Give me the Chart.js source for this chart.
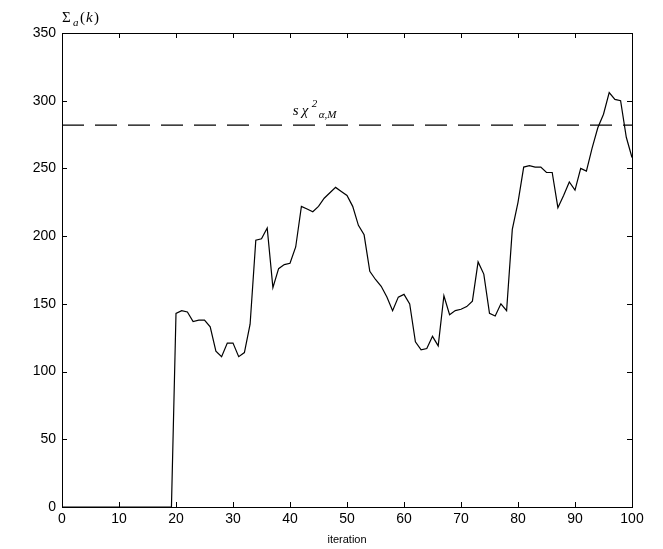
<!DOCTYPE html>
<html>
<head>
<meta charset="utf-8">
<script src="https://cdn.jsdelivr.net/npm/chart.js@4"></script>
<style>
body { margin: 0; background: #fff; }
#wrap { width: 663px; height: 549px; position: relative; }
</style>
</head>
<body>
<div id="wrap"><canvas id="c"></canvas></div>
<script>
const iterations = [];
for (let i = 0; i <= 100; i++) iterations.push(i);
const sigmaValues = [
  0, 0, 0, 0, 0, 0, 0, 0, 0, 0,
  0, 0, 0, 0, 0, 0, 0, 0, 0, 0,
  143, 145, 144, 137, 138, 138, 133, 115, 111, 121,
  121, 111, 114, 135, 197, 198, 206, 162, 176, 179,
  180, 192, 222, 220, 218, 222, 228, 232, 236, 233,
  230, 222, 208, 201, 174, 168, 163, 155, 145, 155,
  157, 150, 122, 116, 117, 126, 119, 156, 142, 145,
  146, 148, 152, 181, 172, 143, 141, 150, 145, 205,
  225, 251, 252, 251, 251, 247, 247, 221, 230, 240,
  234, 250, 248, 265, 280, 290, 306, 301, 300, 273,
  258
];
const threshold = 282;
const xTicks = [0, 10, 20, 30, 40, 50, 60, 70, 80, 90, 100];
const yTicks = [0, 50, 100, 150, 200, 250, 300, 350];

// the step-up happens just after 19
const points = iterations.map((x, i) => ({ x: x, y: sigmaValues[i] }));
points.splice(20, 0, { x: 19.2, y: 0 });

const labelsPlugin = {
  id: 'labels',
  afterDraw(chart) {
    const ctx = chart.ctx;
    const a = chart.chartArea;
    const xs = chart.scales.x, ys = chart.scales.y;
    ctx.save();
    ctx.strokeStyle = '#000';
    ctx.lineWidth = 1;
    ctx.strokeRect(a.left + 0.5, a.top + 0.5, a.right - a.left, a.bottom - a.top);
    // inward ticks on all sides
    ctx.beginPath();
    xTicks.forEach(v => {
      const px = Math.round(xs.getPixelForValue(v)) + 0.5;
      ctx.moveTo(px, a.bottom); ctx.lineTo(px, a.bottom - 5);
      ctx.moveTo(px, a.top); ctx.lineTo(px, a.top + 5);
    });
    yTicks.forEach(v => {
      const py = Math.round(ys.getPixelForValue(v)) + 0.5;
      ctx.moveTo(a.left, py); ctx.lineTo(a.left + 5, py);
      ctx.moveTo(a.right, py); ctx.lineTo(a.right - 5, py);
    });
    ctx.stroke();
    ctx.fillStyle = '#000';
    ctx.font = 'italic 15px "Liberation Serif"';
    const lx = xs.getPixelForValue(40.5), ly = ys.getPixelForValue(282) - 10;
    ctx.fillText('s', lx, ly);
    ctx.fillText('χ', lx + 9, ly);
    ctx.font = 'italic 11px "Liberation Serif"';
    ctx.fillText('2', lx + 19, ly - 8);
    ctx.fillText('α,M', lx + 26, ly + 3);
    ctx.font = '15px "Liberation Serif"';
    ctx.fillText('Σ', 62, 22);
    ctx.font = 'italic 11px "Liberation Serif"';
    ctx.fillText('a', 73, 26);
    ctx.font = '15px "Liberation Serif"';
    ctx.fillText('(', 80, 22);
    ctx.font = 'italic 15px "Liberation Serif"';
    ctx.fillText('k', 86, 22);
    ctx.font = '15px "Liberation Serif"';
    ctx.fillText(')', 94, 22);
    ctx.restore();
  }
};

new Chart(document.getElementById('c'), {
  type: 'scatter',
  data: {
    datasets: [{
      data: points,
      showLine: true,
      borderColor: '#000',
      borderWidth: 1.2,
      pointRadius: 0,
      tension: 0
    }, {
      data: [{ x: 0, y: threshold }, { x: 100, y: threshold }],
      showLine: true,
      borderColor: '#000',
      borderWidth: 1.2,
      borderDash: [22, 11],
      pointRadius: 0
    }]
  },
  options: {
    responsive: true,
    maintainAspectRatio: false,
    animation: false,
    layout: { padding: { top: 33, right: 31, left: 0, bottom: 0 } },
    plugins: { legend: { display: false }, tooltip: { enabled: false } },
    scales: {
      x: {
        type: 'linear', min: 0, max: 100,
        afterBuildTicks: s => { s.ticks = xTicks.map(v => ({ value: v })); },
        grid: { display: false, drawTicks: false },
        border: { display: false },
        ticks: { color: '#000', font: { family: 'Arial', size: 14 }, padding: 4, maxRotation: 0 },
        title: { display: true, text: 'iteration', color: '#000', font: { family: 'Arial', size: 11 }, padding: { top: 2, bottom: 2 } }
      },
      y: {
        min: 0, max: 350,
        afterBuildTicks: s => { s.ticks = yTicks.map(v => ({ value: v })); },
        grid: { display: false, drawTicks: false },
        border: { display: false },
        ticks: { color: '#000', font: { family: 'Arial', size: 14 }, padding: 6 },
        afterFit: s => { s.width = 62; }
      }
    }
  },
  plugins: [labelsPlugin]
});
</script>
</body>
</html>
